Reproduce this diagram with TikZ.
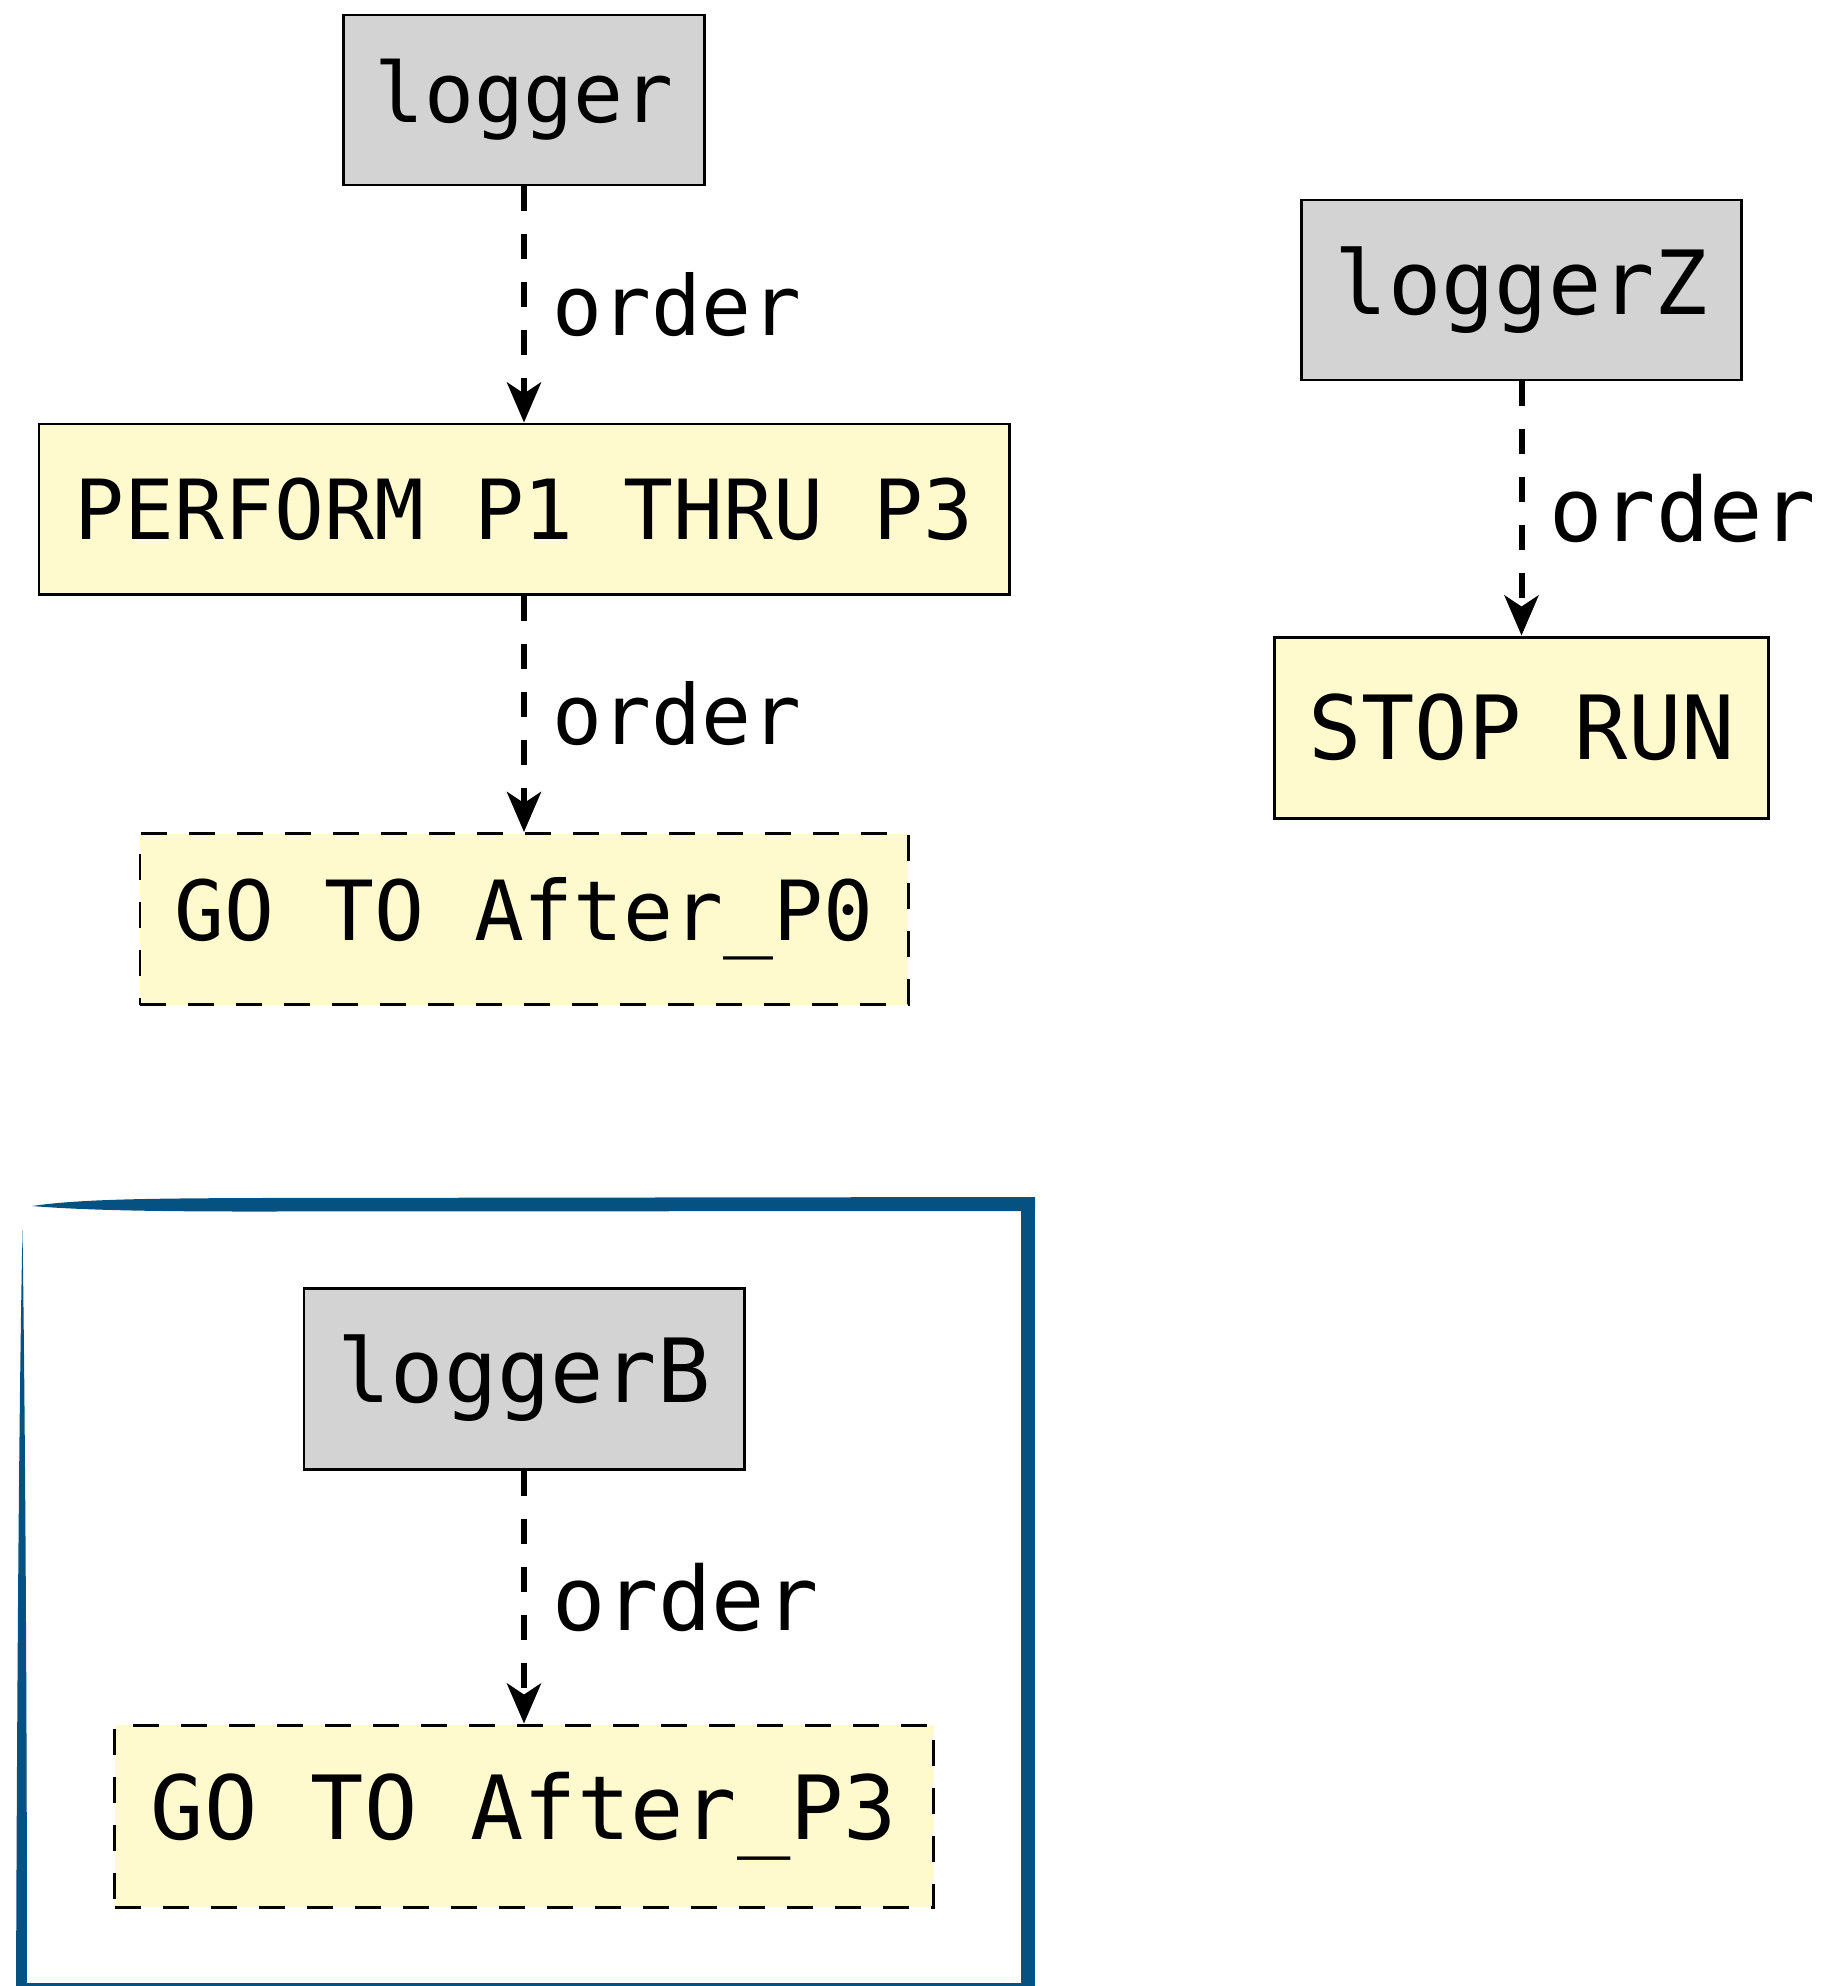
\documentclass[tikz,border=0pt]{standalone}
\usepackage{fontspec}
\setmonofont{DejaVu Sans Mono}
\usetikzlibrary{arrows.meta}

\definecolor{boxgray}{HTML}{D3D3D3}
\definecolor{boxyellow}{HTML}{FFFACD}
\definecolor{frameblue}{HTML}{045182}

\tikzset{
  fsmall/.style={font=\ttfamily\fontsize{23.6}{28}\selectfont},
  flarge/.style={font=\ttfamily\fontsize{25.2}{30}\selectfont},
  logbox/.style={draw, line width=0.85pt, fill=boxgray, inner sep=0pt},
  stmt/.style={draw, line width=0.85pt, fill=boxyellow, inner sep=0pt},
  gotobox/.style={stmt, dash pattern=on 0.26cm off 0.22cm},
  orderedge/.style={line width=0.06cm, dash pattern=on 0.25cm off 0.23cm,
    -{Stealth[length=0.40cm,width=0.34cm,inset=0.11cm]}},
  orderlab/.style={right, inner sep=0pt, xshift=0.25cm},
}

\begin{document}
\begin{tikzpicture}[x=1cm,y=1cm]
  \useasboundingbox (0,0) rectangle (18.28,-19.86);
  % 下の枠(手描き風)
  \begin{scope}
    \clip (0,0) rectangle (18.28,-19.86);
    \fill[frameblue] (0.32,-12.06) .. controls (0.8,-11.99) and (1.5,-11.985) .. (2.5,-11.98)
      -- (10.35,-11.97) -- (10.35,-12.11) -- (2.5,-12.115)
      .. controls (1.5,-12.115) and (0.8,-12.10) .. cycle;
    \fill[frameblue] (10.21,-12.0) rectangle (10.35,-20.0);
    \fill[frameblue] (0.225,-12.30) .. controls (0.25,-14) and (0.27,-17) .. (0.27,-20.0)
      -- (0.16,-20.0) .. controls (0.17,-17) and (0.19,-14) .. cycle;
    \draw[frameblue, line width=0.03cm] (0.2,-19.845) -- (10.3,-19.845);
  \end{scope}

  % logger -> PERFORM -> GO TO
  \node[logbox, fsmall, minimum width=3.61cm, minimum height=1.70cm] (logger) at (5.24,-1.00) {logger};
  \node[stmt, fsmall, minimum width=9.70cm, minimum height=1.70cm] (perform) at (5.24,-5.09) {PERFORM P1 THRU P3};
  \node[gotobox, fsmall, minimum width=7.68cm, minimum height=1.71cm] (gotoP0) at (5.24,-9.19) {GO TO After\_P0};
  \draw[orderedge] (logger) -- (perform) node[midway, orderlab, fsmall] {order};
  \draw[orderedge] (perform) -- (gotoP0) node[midway, orderlab, fsmall] {order};

  % loggerZ -> STOP RUN
  \node[logbox, flarge, minimum width=4.40cm, minimum height=1.80cm] (loggerZ) at (15.215,-2.90) {loggerZ};
  \node[stmt, flarge, minimum width=4.94cm, minimum height=1.81cm] (stoprun) at (15.215,-7.275) {STOP RUN};
  \draw[orderedge] (loggerZ) -- (stoprun) node[midway, orderlab, flarge] {order};

  % loggerB -> GO TO (枠の中)
  \node[logbox, flarge, minimum width=4.40cm, minimum height=1.81cm] (loggerB) at (5.24,-13.785) {loggerB};
  \node[gotobox, flarge, minimum width=8.19cm, minimum height=1.82cm] (gotoP3) at (5.24,-18.16) {GO TO After\_P3};
  \draw[orderedge] (loggerB) -- (gotoP3) node[midway, orderlab, flarge] {order};
\end{tikzpicture}
\end{document}
